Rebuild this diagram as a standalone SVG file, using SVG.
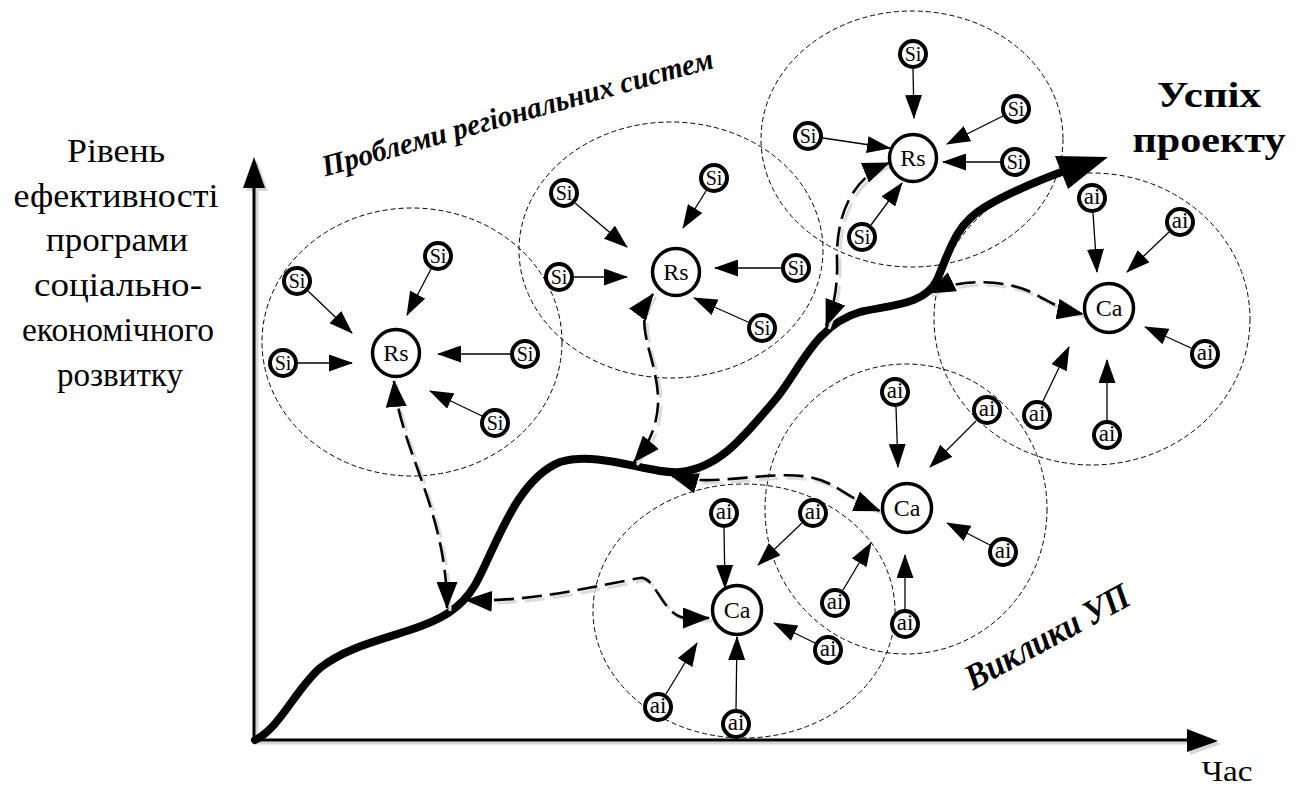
<svg xmlns="http://www.w3.org/2000/svg" width="1301" height="787" viewBox="0 0 1301 787">
<defs>
<style>
.zone{fill:none;stroke:#000;stroke-width:1;stroke-dasharray:5 3}
.big{fill:#fff;stroke:#000;stroke-width:3.5}
.sm{fill:#fff;stroke:#000;stroke-width:4}
.bt{font-family:'Liberation Serif',serif;font-size:24px;text-anchor:middle}
.st{font-family:'Liberation Serif',serif;font-size:20px;text-anchor:middle}
.at{font-family:'Liberation Serif',serif;font-size:23px;text-anchor:middle}
.arr{stroke:#000;stroke-width:1.3;fill:none;marker-end:url(#ah)}
.dl{fill:none;stroke:#000;stroke-width:2.6;stroke-dasharray:20 8;marker-start:url(#dh);marker-end:url(#dh)}
.dsh{fill:none;stroke:#dcdcdc;stroke-width:3;stroke-dasharray:20 8}
.lab{font-family:'Liberation Serif',serif;font-size:34px;text-anchor:middle}
.bo{font-family:'Liberation Serif',serif;font-weight:bold;font-size:36px;text-anchor:middle}
.bi{font-family:'Liberation Serif',serif;font-weight:bold;font-style:italic;text-anchor:middle}
.ax{stroke:#000;stroke-width:3;fill:none}
.axs{stroke:#d6d6d6;stroke-width:3;fill:none}
</style>
<marker id="ah" markerUnits="userSpaceOnUse" markerWidth="24" markerHeight="17" viewBox="0 0 24 17" refX="23" refY="8.5" orient="auto"><path d="M0,0 L24,8.5 L0,17 Z" fill="#000"/></marker>
<marker id="dh" markerUnits="userSpaceOnUse" markerWidth="27" markerHeight="21" viewBox="0 0 27 21" refX="26" refY="10.5" orient="auto-start-reverse"><path d="M0,0 L27,10.5 L0,21 Z" fill="#000"/></marker>
</defs>
<rect width="1301" height="787" fill="#fff"/>

<g id="axes">
<line class="axs" x1="257" y1="743" x2="257" y2="190"/>
<polygon points="257,160 246,191 268,191" fill="#d6d6d6"/>
<line class="axs" x1="254" y1="743" x2="1190" y2="743"/>
<polygon points="1221,744 1190,732 1190,755" fill="#d6d6d6"/>
<line class="ax" x1="254" y1="740" x2="254" y2="186"/>
<polygon points="254,157 243,188 265,188" fill="#000"/>
<line class="ax" x1="254" y1="740" x2="1190" y2="740"/>
<polygon points="1218,741 1187,729 1187,752" fill="#000"/>
</g>

<g id="labels">
<text class="lab" x="116" y="162" textLength="98" lengthAdjust="spacingAndGlyphs">Рівень</text>
<text class="lab" x="116" y="207" textLength="205" lengthAdjust="spacingAndGlyphs">ефективності</text>
<text class="lab" x="117" y="251" textLength="142" lengthAdjust="spacingAndGlyphs">програми</text>
<text class="lab" x="118" y="296" textLength="168" lengthAdjust="spacingAndGlyphs">соціально-</text>
<text class="lab" x="118" y="341" textLength="192" lengthAdjust="spacingAndGlyphs">економічного</text>
<text class="lab" x="120" y="386" textLength="126" lengthAdjust="spacingAndGlyphs">розвитку</text>
<text class="lab" x="1227" y="781" style="font-size:30px" textLength="51" lengthAdjust="spacingAndGlyphs">Час</text>
<text class="bo" x="1209" y="107" textLength="104" lengthAdjust="spacingAndGlyphs">Успіх</text>
<text class="bo" x="1209" y="152" textLength="153" lengthAdjust="spacingAndGlyphs">проекту</text>
<text class="bi" x="520" y="122" style="font-size:30px" transform="rotate(-15.6 520 122)" textLength="405" lengthAdjust="spacingAndGlyphs">Проблеми регіональних систем</text>
<text class="bi" x="1053" y="647" style="font-size:36px" transform="rotate(-28.5 1053 647)" textLength="182" lengthAdjust="spacingAndGlyphs">Виклики УП</text>
</g>

<g id="zones">
<ellipse id="zone-1" class="zone" cx="412" cy="342" rx="150" ry="134"/>
<ellipse id="zone-2" class="zone" cx="671" cy="250" rx="152" ry="128"/>
<ellipse id="zone-3" class="zone" cx="912" cy="139" rx="151" ry="128"/>
<ellipse id="zone-4" class="zone" cx="1092" cy="319" rx="158" ry="146"/>
<ellipse id="zone-5" class="zone" cx="906" cy="509" rx="141" ry="145"/>
<ellipse id="zone-6" class="zone" cx="744" cy="611" rx="151" ry="127"/>
</g>

<g id="connectors">
<path id="main-curve" d="M255,740 C280,728 295,690 320,668 C345,648 380,640 410,630 C440,620 460,610 475,585 C495,550 515,480 560,462 C600,450 650,475 680,472 C720,468 745,435 775,400 C800,370 815,325 860,312 C890,305 925,305 937,280 C950,250 955,225 985,207 C1010,192 1040,180 1064,171" fill="none" stroke="#000" stroke-width="8" stroke-linecap="round"/>
<polygon points="1108,157 1055,156 1068,189" fill="#000"/>

<g transform="translate(3,3)">
<path class="dsh" d="M394,381 C400,450 447,510 447,608"/>
<path class="dsh" d="M653,294 C630,325 660,360 658,405 C656,432 646,448 634,462"/>
<path class="dsh" d="M889,163 C852,178 836,215 837,260 C838,290 833,308 826,326"/>
<path class="dsh" d="M929,293 C960,278 1010,278 1040,297 C1050,302 1062,310 1083,314"/>
<path class="dsh" d="M672,476 C720,490 790,462 830,484 C845,492 860,503 880,511"/>
<path class="dsh" d="M466,600 C530,603 600,585 640,578 C655,575 662,615 685,618 L709,618"/>
</g>
<path class="dl" d="M394,381 C400,450 447,510 447,608"/>
<path class="dl" d="M653,294 C630,325 660,360 658,405 C656,432 646,448 634,462"/>
<path class="dl" d="M889,163 C852,178 836,215 837,260 C838,290 833,308 826,326"/>
<path class="dl" d="M929,293 C960,278 1010,278 1040,297 C1050,302 1062,310 1083,314"/>
<path class="dl" d="M672,476 C720,490 790,462 830,484 C845,492 860,503 880,511"/>
<path class="dl" d="M466,600 C530,603 600,585 640,578 C655,575 662,615 685,618 L709,618"/>

<line class="arr" x1="431" y1="269" x2="407" y2="315"/>
<line class="arr" x1="308" y1="291" x2="352" y2="333"/>
<line class="arr" x1="298" y1="363" x2="352" y2="363"/>
<line class="arr" x1="510" y1="354" x2="438" y2="354"/>
<line class="arr" x1="482" y1="416" x2="430" y2="391"/>

<line class="arr" x1="575" y1="203" x2="627" y2="247"/>
<line class="arr" x1="706" y1="191" x2="683" y2="228"/>
<line class="arr" x1="574" y1="277" x2="627" y2="277"/>
<line class="arr" x1="781" y1="268" x2="715" y2="268"/>
<line class="arr" x1="748" y1="322" x2="694" y2="298"/>

<line class="arr" x1="913" y1="69" x2="914" y2="118"/>
<line class="arr" x1="1003" y1="116" x2="947" y2="144"/>
<line class="arr" x1="823" y1="138" x2="890" y2="148"/>
<line class="arr" x1="1000" y1="162" x2="943" y2="162"/>
<line class="arr" x1="871" y1="225" x2="902" y2="183"/>

<line class="arr" x1="1093" y1="213" x2="1097" y2="272"/>
<line class="arr" x1="1169" y1="232" x2="1127" y2="272"/>
<line class="arr" x1="1191" y1="348" x2="1145" y2="327"/>
<line class="arr" x1="1107" y1="420" x2="1107" y2="360"/>
<line class="arr" x1="1043" y1="401" x2="1069" y2="347"/>

<line class="arr" x1="896" y1="407" x2="898" y2="467"/>
<line class="arr" x1="976" y1="421" x2="930" y2="467"/>
<line class="arr" x1="990" y1="545" x2="947" y2="523"/>
<line class="arr" x1="905" y1="609" x2="905" y2="555"/>
<line class="arr" x1="843" y1="590" x2="871" y2="543"/>

<line class="arr" x1="724" y1="528" x2="725" y2="588"/>
<line class="arr" x1="802" y1="523" x2="758" y2="565"/>
<line class="arr" x1="815" y1="643" x2="774" y2="623"/>
<line class="arr" x1="736" y1="709" x2="737" y2="637"/>
<line class="arr" x1="666" y1="694" x2="697" y2="643"/>
</g>

<g id="rs-1"><circle class="big" cx="396" cy="353" r="23.5"/><text class="bt" x="396" y="361">Rs</text></g>
<g id="rs-2"><circle class="big" cx="676" cy="272" r="23.5"/><text class="bt" x="676" y="280">Rs</text></g>
<g id="rs-3"><circle class="big" cx="913" cy="158" r="23.5"/><text class="bt" x="913" y="166">Rs</text></g>
<g id="ca-4"><circle class="big" cx="1109" cy="308" r="24.5"/><text class="bt" x="1109" y="316">Ca</text></g>
<g id="ca-5"><circle class="big" cx="907" cy="508" r="24.5"/><text class="bt" x="907" y="516">Ca</text></g>
<g id="ca-6"><circle class="big" cx="737" cy="610" r="24.5"/><text class="bt" x="737" y="618">Ca</text></g>

<g id="si-1a"><circle class="sm" cx="438" cy="256" r="13"/><text class="st" x="438" y="262.5">Si</text></g>
<g id="si-1b"><circle class="sm" cx="297" cy="281" r="13"/><text class="st" x="297" y="287.5">Si</text></g>
<g id="si-1c"><circle class="sm" cx="283" cy="363" r="13"/><text class="st" x="283" y="369.5">Si</text></g>
<g id="si-1d"><circle class="sm" cx="525" cy="354" r="13"/><text class="st" x="525" y="360.5">Si</text></g>
<g id="si-1e"><circle class="sm" cx="495" cy="423" r="13"/><text class="st" x="495" y="429.5">Si</text></g>

<g id="si-2a"><circle class="sm" cx="564" cy="193" r="13"/><text class="st" x="564" y="199.5">Si</text></g>
<g id="si-2b"><circle class="sm" cx="714" cy="178" r="13"/><text class="st" x="714" y="184.5">Si</text></g>
<g id="si-2c"><circle class="sm" cx="559" cy="277" r="13"/><text class="st" x="559" y="283.5">Si</text></g>
<g id="si-2d"><circle class="sm" cx="796" cy="268" r="13"/><text class="st" x="796" y="274.5">Si</text></g>
<g id="si-2e"><circle class="sm" cx="762" cy="328" r="13"/><text class="st" x="762" y="334.5">Si</text></g>

<g id="si-3a"><circle class="sm" cx="913" cy="54" r="13"/><text class="st" x="913" y="60.5">Si</text></g>
<g id="si-3b"><circle class="sm" cx="1016" cy="109" r="13"/><text class="st" x="1016" y="115.5">Si</text></g>
<g id="si-3c"><circle class="sm" cx="808" cy="136" r="13"/><text class="st" x="808" y="142.5">Si</text></g>
<g id="si-3d"><circle class="sm" cx="1015" cy="162" r="13"/><text class="st" x="1015" y="168.5">Si</text></g>
<g id="si-3e"><circle class="sm" cx="862" cy="237" r="13"/><text class="st" x="862" y="243.5">Si</text></g>

<g id="ai-4a"><circle class="sm" cx="1092" cy="198" r="13"/><text class="at" x="1092" y="204">ai</text></g>
<g id="ai-4b"><circle class="sm" cx="1180" cy="222" r="13"/><text class="at" x="1180" y="228">ai</text></g>
<g id="ai-4c"><circle class="sm" cx="1205" cy="354" r="13"/><text class="at" x="1205" y="360">ai</text></g>
<g id="ai-4d"><circle class="sm" cx="1107" cy="435" r="13"/><text class="at" x="1107" y="441">ai</text></g>
<g id="ai-4e"><circle class="sm" cx="1037" cy="415" r="13"/><text class="at" x="1037" y="421">ai</text></g>

<g id="ai-5a"><circle class="sm" cx="895" cy="392" r="13"/><text class="at" x="895" y="398">ai</text></g>
<g id="ai-5b"><circle class="sm" cx="987" cy="410" r="13"/><text class="at" x="987" y="416">ai</text></g>
<g id="ai-5c"><circle class="sm" cx="1003" cy="552" r="13"/><text class="at" x="1003" y="558">ai</text></g>
<g id="ai-5d"><circle class="sm" cx="905" cy="624" r="13"/><text class="at" x="905" y="630">ai</text></g>
<g id="ai-5e"><circle class="sm" cx="835" cy="603" r="13"/><text class="at" x="835" y="609">ai</text></g>

<g id="ai-6a"><circle class="sm" cx="724" cy="513" r="13"/><text class="at" x="724" y="519">ai</text></g>
<g id="ai-6b"><circle class="sm" cx="813" cy="513" r="13"/><text class="at" x="813" y="519">ai</text></g>
<g id="ai-6c"><circle class="sm" cx="828" cy="650" r="13"/><text class="at" x="828" y="656">ai</text></g>
<g id="ai-6d"><circle class="sm" cx="736" cy="724" r="13"/><text class="at" x="736" y="730">ai</text></g>
<g id="ai-6e"><circle class="sm" cx="658" cy="707" r="13"/><text class="at" x="658" y="713">ai</text></g>
</svg>
